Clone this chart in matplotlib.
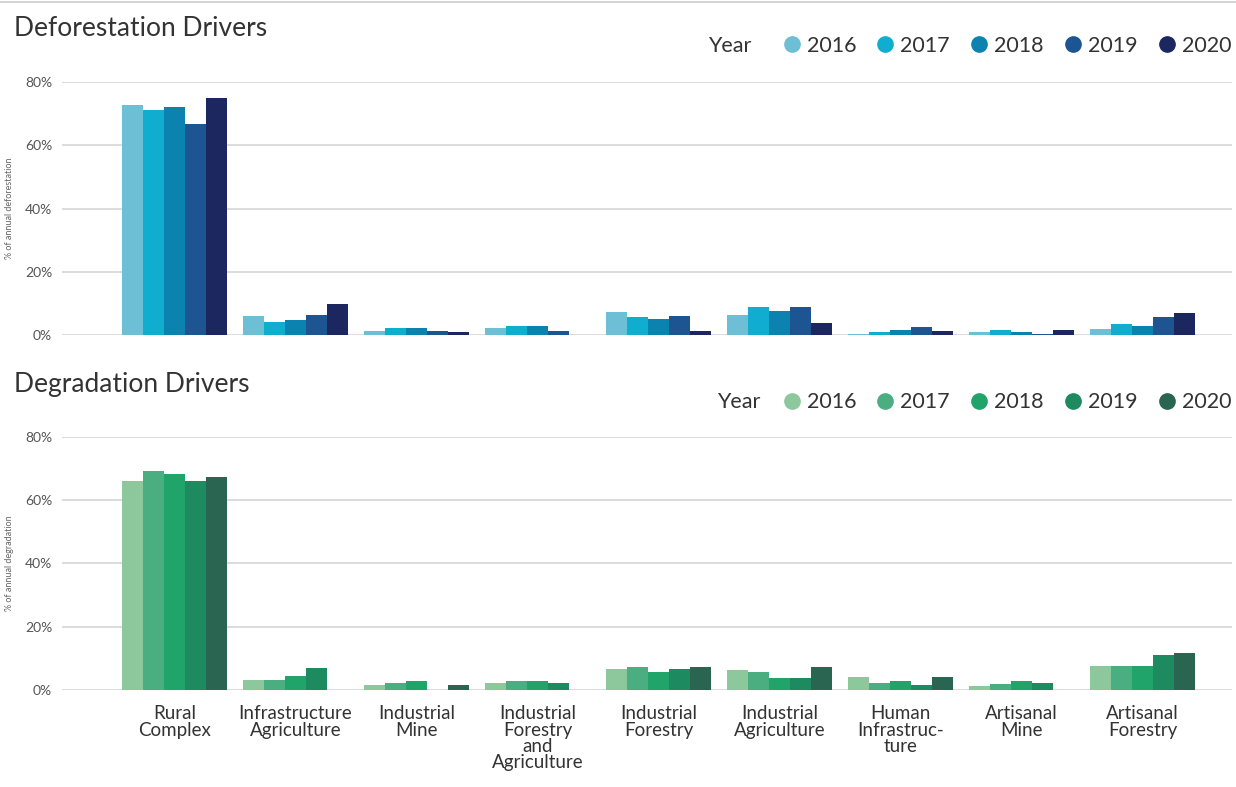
import numpy as np
import matplotlib.pyplot as plt
from matplotlib.lines import Line2D

plt.rcParams['font.family'] = ['Lato', 'DejaVu Sans']

# Data
drivers = ['Rural\nComplex', 'Infrastructure\nAgriculture', 'Industrial\nMine',
           'Industrial\nForestry\nand\nAgriculture', 'Industrial\nForestry',
           'Industrial\nAgriculture', 'Human\nInfrastruc-\nture', 'Artisanal\nMine',
           'Artisanal\nForestry']
years = ['2016', '2017', '2018', '2019', '2020']

# % of annual deforestation, one list per year (order follows drivers)
defor_2016 = [72.8, 6.1, 1.4, 2.4, 7.2, 6.4, 0.5, 1.1, 2.1]
defor_2017 = [71.0, 4.2, 2.2, 3.0, 5.8, 9.0, 1.1, 1.6, 3.7]
defor_2018 = [72.1, 4.7, 2.2, 3.0, 5.1, 7.7, 1.6, 1.1, 3.0]
defor_2019 = [66.8, 6.4, 1.4, 1.4, 6.1, 9.0, 2.7, 0.5, 5.8]
defor_2020 = [74.9, 10.0, 0.9, 0.0, 1.4, 4.0, 1.2, 1.6, 6.9]

# % of annual degradation
degr_2016 = [66.0, 3.0, 1.7, 2.3, 6.6, 6.3, 4.0, 1.1, 7.7]
degr_2017 = [69.4, 3.0, 2.1, 2.8, 7.4, 5.6, 2.2, 1.9, 7.7]
degr_2018 = [68.4, 4.5, 2.7, 2.8, 5.6, 3.8, 2.7, 2.7, 7.7]
degr_2019 = [66.0, 7.0, 0.0, 2.3, 6.6, 3.8, 1.6, 2.2, 10.9]
degr_2020 = [67.3, 0.0, 1.6, 0.0, 7.4, 7.4, 4.0, 0.0, 11.6]

defor = [defor_2016, defor_2017, defor_2018, defor_2019, defor_2020]
degr = [degr_2016, degr_2017, degr_2018, degr_2019, degr_2020]

blues = ['#6cbfd4', '#10add0', '#0b82b0', '#1c5592', '#1c2760']
greens = ['#8dc79c', '#4bae80', '#20a46a', '#1d8a5f', '#2a6552']

fig = plt.figure(figsize=(12.36, 7.87), dpi=100)
ax1 = fig.add_axes([0.050, 0.574, 0.947, 0.322])
ax2 = fig.add_axes([0.050, 0.1233, 0.947, 0.3214])

x = np.arange(len(drivers))
w = 0.174


def draw(ax, series, colors, ylabel):
    for i, vals in enumerate(series):
        ax.bar(x + (i - 2) * w, vals, width=w, color=colors[i], zorder=3)
    ax.set_ylim(0, 80)
    ax.set_xlim(-0.93, 8.74)
    ax.set_yticks([0, 20, 40, 60, 80])
    ax.set_yticklabels(['0%', '20%', '40%', '60%', '80%'])
    ax.grid(axis='y', color='#dcdcdc', linewidth=1.4, zorder=0)
    ax.set_axisbelow(True)
    for s in ax.spines.values():
        s.set_visible(False)
    ax.tick_params(axis='y', length=0, labelsize=10, labelcolor='#555555', pad=7)
    ax.tick_params(axis='x', length=0)
    ax.set_ylabel(ylabel, fontsize=6.5, color='#666666')
    ax.yaxis.set_label_coords(-0.041, 0.5)


draw(ax1, defor, blues, '% of annual deforestation')
draw(ax2, degr, greens, '% of annual degradation')
ax1.set_xticks([])
ax2.set_xticks(x)
ax2.set_xticklabels(drivers, fontsize=13.5, color='#333333', linespacing=0.95)
ax2.tick_params(axis='x', pad=11)

# titles
fig.text(0.011, 0.964, 'Deforestation Drivers', fontsize=19, color='#333333', va='center')
fig.text(0.011, 0.511, 'Degradation Drivers', fontsize=19, color='#333333', va='center')

# legends
def legend(colors, ypos, year_x):
    handles = [Line2D([], [], marker='o', linestyle='', markersize=11, color=c) for c in colors]
    fig.legend(handles, years, loc='center right', bbox_to_anchor=(1.003, ypos), ncol=5,
               frameon=False, fontsize=15.5, handletextpad=0.0, columnspacing=0.65,
               handlelength=1.4, labelcolor='#333333', borderaxespad=0)
    fig.text(year_x, ypos, 'Year', fontsize=15.5, color='#333333', va='center')


legend(blues, 0.942, 0.573)
legend(greens, 0.489, 0.580)

# thin rule at top
fig.add_artist(Line2D([0, 1], [0.997, 0.997], color='#cccccc', linewidth=1.2))

fig.savefig('out.png', dpi=100)
